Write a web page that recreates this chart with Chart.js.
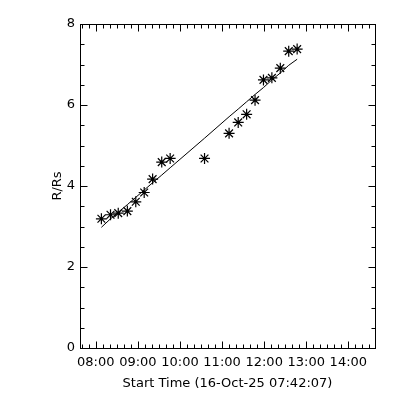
<!DOCTYPE html>
<html>
<head>
<meta charset="utf-8">
<script src="https://cdn.jsdelivr.net/npm/chart.js@4/dist/chart.umd.min.js"></script>
<style>
  html, body { margin: 0; padding: 0; background: #fff; }
  #wrap { width: 400px; height: 400px; }
</style>
</head>
<body>
<div id="wrap"><canvas id="cmeChart"></canvas></div>
<script>
// observation times (HH:MM) and measured heights
const times = ['08:08', '08:21', '08:32', '08:45', '08:57', '09:09', '09:21', '09:34', '09:46', '10:35',
               '11:10', '11:23', '11:35', '11:47', '11:59', '12:11', '12:23', '12:35', '12:47'];
const heights = [3.19, 3.29, 3.33, 3.38, 3.61, 3.84, 4.17, 4.59, 4.68, 4.68,
                 5.30, 5.57, 5.77, 6.12, 6.62, 6.67, 6.91, 7.33, 7.38];
// fitted line read at the same times
const fitHeights = [2.98, 3.19, 3.35, 3.54, 3.72, 3.90, 4.08, 4.27, 4.45, 5.18,
                    5.71, 5.90, 6.08, 6.26, 6.43, 6.62, 6.79, 6.98, 7.13];
const hourTicks = [8, 9, 10, 11, 12, 13, 14];
const yTicks = [0, 2, 4, 6, 8];

function toHours(s) {
    const p = s.split(':');
    return parseInt(p[0]) + parseInt(p[1]) / 60;
}

function pad(n) { return (n < 10 ? '0' : '') + n; }

const fontFamily = 'DejaVu Sans';

// inward ticks on all four sides, plus the frame
const frameTicks = {
    id: 'frameTicks',
    afterDraw(chart) {
        const ctx = chart.ctx;
        const a = chart.chartArea;
        const xs = chart.scales.x;
        const ys = chart.scales.y;
        const L = Math.round(a.left) + 0.5, R = Math.round(a.right) + 0.5;
        const T = Math.round(a.top) + 0.5, B = Math.round(a.bottom) + 0.5;
        ctx.save();
        ctx.strokeStyle = '#000';
        ctx.lineWidth = 1;
        ctx.strokeRect(L, T, R - L, B - T);
        ctx.beginPath();
        for (let m = 7 * 60 + 40; m <= 14 * 60 + 30; m += 10) {
            const px = Math.round(xs.getPixelForValue(m / 60)) + 0.5;
            if (px <= L || px >= R) continue;
            const len = (m % 60 === 0) ? 7 : 4;
            ctx.moveTo(px, B); ctx.lineTo(px, B - len);
            ctx.moveTo(px, T); ctx.lineTo(px, T + len);
        }
        for (let v = 0.5; v < 8; v += 0.5) {
            const py = Math.round(ys.getPixelForValue(v)) + 0.5;
            const len = (v % 2 === 0) ? 7 : 4;
            ctx.moveTo(L, py); ctx.lineTo(L + len, py);
            ctx.moveTo(R, py); ctx.lineTo(R - len, py);
        }
        ctx.stroke();
        ctx.restore();
    }
};

const chart = new Chart(document.getElementById('cmeChart'), {
    type: 'scatter',
    data: {
        datasets: [{
            type: 'line',
            data: times.map((t, i) => ({ x: toHours(t), y: fitHeights[i] })),
            borderColor: '#000',
            borderWidth: 1,
            pointRadius: 0,
            fill: false,
            tension: 0
        }, {
            data: times.map((t, i) => ({ x: toHours(t), y: heights[i] })),
            pointStyle: 'star',
            pointRadius: 5.5,
            borderColor: '#000',
            backgroundColor: '#000',
            borderWidth: 1.2
        }]
    },
    options: {
        responsive: true,
        maintainAspectRatio: false,
        animation: false,
        layout: { padding: { left: 50, right: 25, top: 24, bottom: 9 } },
        plugins: { legend: { display: false }, tooltip: { enabled: false } },
        scales: {
            x: {
                type: 'linear',
                min: 7.625,
                max: 14.633,
                afterBuildTicks(scale) {
                    scale.ticks = hourTicks.map(v => ({ value: v }));
                },
                afterFit(scale) { scale.height = 43; },
                grid: { display: false, drawTicks: false },
                border: { display: false },
                ticks: {
                    color: '#000',
                    padding: 7,
                    maxRotation: 0,
                    autoSkip: false,
                    font: { family: fontFamily, size: 13 },
                    callback: v => pad(v) + ':00'
                },
                title: {
                    display: true,
                    text: 'Start Time (16-Oct-25 07:42:07)',
                    color: '#000',
                    padding: { top: 0, bottom: 0 },
                    font: { family: fontFamily, size: 13 }
                }
            },
            y: {
                min: 0,
                max: 8,
                afterBuildTicks(scale) {
                    scale.ticks = yTicks.map(v => ({ value: v }));
                },
                afterFit(scale) { scale.width = 30; },
                grid: { display: false, drawTicks: false },
                border: { display: false },
                ticks: {
                    color: '#000',
                    padding: 5,
                    font: { family: fontFamily, size: 13 }
                },
                title: {
                    display: true,
                    text: 'R/Rs',
                    color: '#000',
                    padding: 0,
                    font: { family: fontFamily, size: 13 }
                }
            }
        }
    },
    plugins: [frameTicks]
});
</script>
</body>
</html>
